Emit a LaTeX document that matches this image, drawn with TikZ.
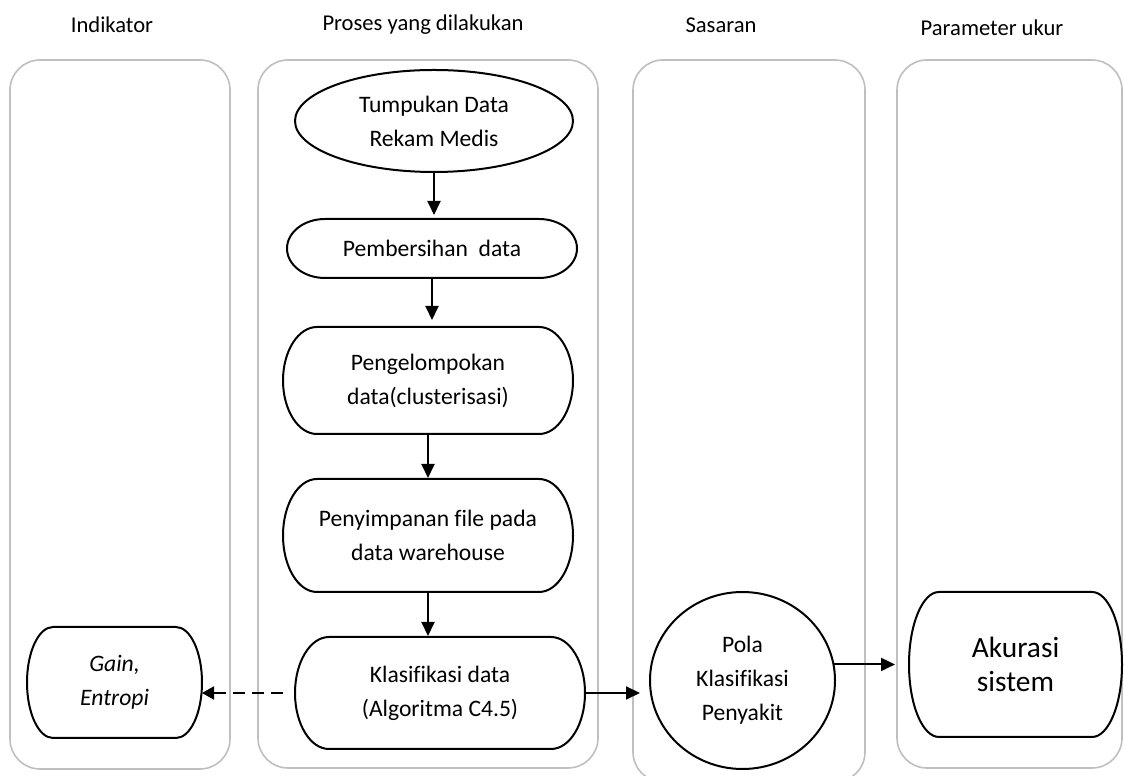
\documentclass[tikz,border=0pt]{standalone}
\usepackage{fontspec}
\setmainfont{Carlito}[Ligatures=CommonOff]
\usetikzlibrary{arrows.meta,calc,shapes.geometric}
\definecolor{lanegrey}{HTML}{BFBFBF}
\tikzset{
  lane/.style={draw=lanegrey,line width=0.8pt,rounded corners=15pt},
  heading/.style={inner sep=0pt,font=\fontsize{11.3pt}{14pt}\selectfont},
  flowtxt/.style={inner sep=0pt,outer sep=0pt,align=center,font=\fontsize{11.8pt}{17pt}\selectfont},
  flowline/.style={draw=black,line width=1pt},
  arr/.style={line width=1pt,-{Triangle[width=6.5pt,length=7pt]}},
  dasharr/.style={line width=1pt,dash pattern=on 6pt off 3.5pt,-{Triangle[width=6.5pt,length=6pt]}}
}
% name, cx, cy, w, h, rx (all px), text
\newcommand\termnode[7]{%
  \node[flowtxt, minimum width=#4*0.5pt, minimum height=#5*0.5pt] (#1) at (#2,#3) {#7};
  \pgfmathsetmacro\trx{#6*0.5}%
  \pgfmathsetmacro\try{#5*0.25}%
  \draw[flowline] ([xshift=\trx pt]#1.north west) -- ([xshift=-\trx pt]#1.north east)
     arc[start angle=90,end angle=-90,x radius=\trx pt,y radius=\try pt]
     -- ([xshift=\trx pt]#1.south west)
     arc[start angle=270,end angle=90,x radius=\trx pt,y radius=\try pt] -- cycle;
}
\begin{document}
\begin{tikzpicture}[x=0.5pt,y=0.5pt]
\useasboundingbox (0,0) rectangle (1124,776);

% lanes
\draw[lane] (10,7) rectangle (230,716);
\draw[lane] (258,8) rectangle (598,716);
\draw[lane] (633,-6) rectangle (865,716);
\draw[lane] (897,8) rectangle (1122,716);

% headings
\node[heading] (hInd) at (112,751) {Indikator};
\node[heading] (hPro) at (423,751) {Proses yang dilakukan};
\node[heading] (hSas) at (721,751) {Sasaran};
\node[heading] (hPar) at (992,748) {Parameter ukur};

% flow nodes
\node[flowtxt,ellipse,flowline,minimum width=139pt,minimum height=51pt] (tump) at (434,655) {Tumpukan Data\\Rekam Medis};
\termnode{pemb}{432}{527.5}{290}{59}{38}{Pembersihan~ data}
\termnode{peng}{428}{395.5}{290}{107}{34}{Pengelompokan\\data(clusterisasi)}
\termnode{peny}{428}{240.5}{290}{113}{34}{Penyimpanan file pada\\data warehouse}
\termnode{klas}{440}{83}{290}{112}{34}{Klasifikasi data\\(Algoritma C4.5)}
\termnode{gain}{114.5}{93.5}{175}{111}{26}{\itshape Gain,\\\itshape Entropi}
\node[flowtxt,ellipse,flowline,minimum width=92.5pt,minimum height=88.5pt] (pola) at (742.5,95.5) {Pola\\Klasifikasi\\Penyakit};
\termnode{akur}{1015.5}{111.5}{213}{145}{30}{\fontsize{14.7pt}{20pt}\selectfont Akurasi\\\fontsize{14.7pt}{20pt}\selectfont sistem}

% connectors
\draw[arr,shorten >=2pt] (tump.south) -- (tump.south |- pemb.north);
\draw[arr,shorten >=3.5pt] (pemb.south) -- (pemb.south |- peng.north);
\draw[arr,shorten >=0.5pt] (peng.south) -- (peng.south |- peny.north);
\draw[arr,shorten >=0.5pt] (peny.south) -- (peny.south |- klas.north);
\draw[arr,shorten >=5pt] (klas.east) -- (klas.east -| pola.west);
\draw[arr,shorten >=7pt] (pola.10) -- (pola.10 -| akur.west);
\draw[dasharr,shorten <=6pt] (klas.west) -- (klas.west -| gain.east);
\end{tikzpicture}
\end{document}
